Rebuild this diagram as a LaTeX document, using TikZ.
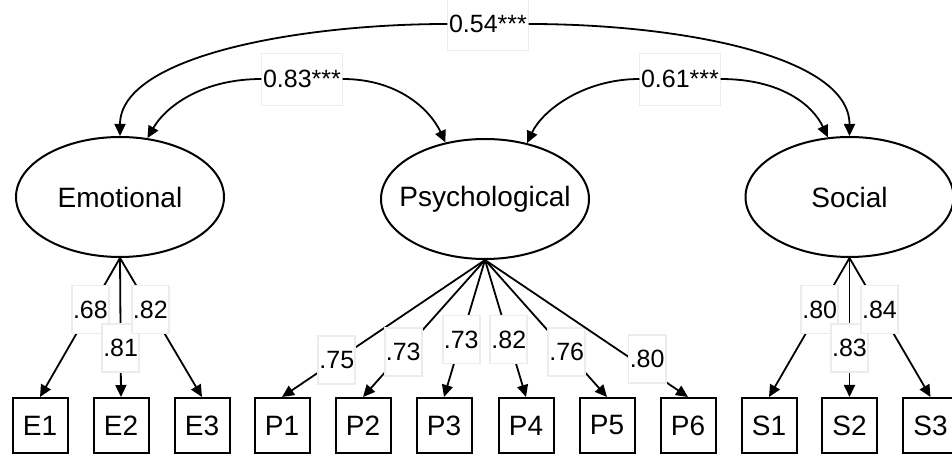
\documentclass[tikz,border=0pt]{standalone}
\usepackage{fontspec}
\setmainfont{Liberation Sans}
\usetikzlibrary{shapes.geometric,arrows.meta}

\tikzset{
 latent/.style={ellipse,draw,line width=1pt,minimum width=104pt,minimum height=60pt,inner xsep=-8pt,font=\fontsize{14}{16}\selectfont},
 ind/.style={rectangle,draw,line width=1pt,minimum size=27.5pt,inner sep=0pt,font=\fontsize{14}{16}\selectfont},
 coef/.style={draw=gray!15,fill=white,inner xsep=0.6pt,inner ysep=0pt,minimum height=24pt,font=\fontsize{12.5}{14}\selectfont},
 corr/.style={coef,minimum height=26pt},
 load/.style={-{Triangle[length=6pt,width=5.5pt]},line width=0.9pt},
 cov/.style={-{Triangle[length=6pt,width=5.5pt]},line width=0.9pt},
}

\begin{document}
\begin{tikzpicture}[x=0.5pt,y=0.5pt]
 \useasboundingbox (0,0) rectangle (952,-458);

% latent factors
 \node[latent] (emo) at (120,-197) {Emotional};
 \node[latent] (psy) at (485,-199) {Psychological};
 \node[latent] (soc) at (849.5,-197) {Social};

% indicators
 \node[ind] (E1) at (40,-425.5) {E1};
 \node[ind] (E2) at (121,-425.5) {E2};
 \node[ind] (E3) at (202,-425.5) {E3};
 \node[ind] (P1) at (282,-425.5) {P1};
 \node[ind] (P2) at (363,-425.5) {P2};
 \node[ind] (P3) at (444,-425.5) {P3};
 \node[ind] (P4) at (526,-425.5) {P4};
 \node[ind] (P5) at (607,-425.5) {P5};
 \node[ind] (P6) at (688,-425.5) {P6};
 \node[ind] (S1) at (769,-425.5) {S1};
 \node[ind] (S2) at (849.5,-425.5) {S2};
 \node[ind] (S3) at (930.5,-425.5) {S3};

% loadings
 \draw[load] (emo.south) -- node[coef,pos=0.37] {.68} (E1.north);
 \draw[load] (emo.south) -- node[coef,pos=0.65] {.81} (E2.north);
 \draw[load] (emo.south) -- node[coef,pos=0.37] {.82} (E3.north);

 \draw[load] (psy.south) -- node[coef,pos=0.73] {.75} (P1.north);
 \draw[load] (psy.south) -- node[coef,pos=0.67] {.73} (P2.north);
 \draw[load] (psy.south) -- node[coef,pos=0.58] {.73} (P3.north);
 \draw[load] (psy.south) -- node[coef,pos=0.58] {.82} (P4.north);
 \draw[load] (psy.south) -- node[coef,pos=0.67] {.76} (P5.north);
 \draw[load] (psy.south) -- node[coef,pos=0.72,xshift=8pt] {.80} (P6.north);

 \draw[load] (soc.south) -- node[coef,pos=0.37] {.80} (S1.north);
 \draw[load] (soc.south) -- node[coef,pos=0.65] {.83} (S2.north);
 \draw[load] (soc.south) -- node[coef,pos=0.37] {.84} (S3.north);

% correlations
 \node[corr] (c54) at (488,-24) {0.54***};
 \node[corr] (c83) at (302,-79) {0.83***};
 \node[corr] (c61) at (680,-79) {0.61***};

 \draw[cov] (c54.west) to[out=180,in=90,out distance=74pt,in distance=40pt] (emo.north);
 \draw[cov] (c54.east) to[out=0,in=90,out distance=76pt,in distance=40pt] (soc.north);
 \draw[cov] (c83.west) to[out=180,in=60,out distance=30pt,in distance=18pt] (emo.65);
 \draw[cov] (c83.east) to[out=0,in=115,out distance=28pt,in distance=18pt] (psy.125);
 \draw[cov] (c61.west) to[out=180,in=65,out distance=28pt,in distance=18pt] (psy.53);
 \draw[cov] (c61.east) to[out=0,in=115,out distance=30pt,in distance=18pt] (soc.110);

\end{tikzpicture}
\end{document}
